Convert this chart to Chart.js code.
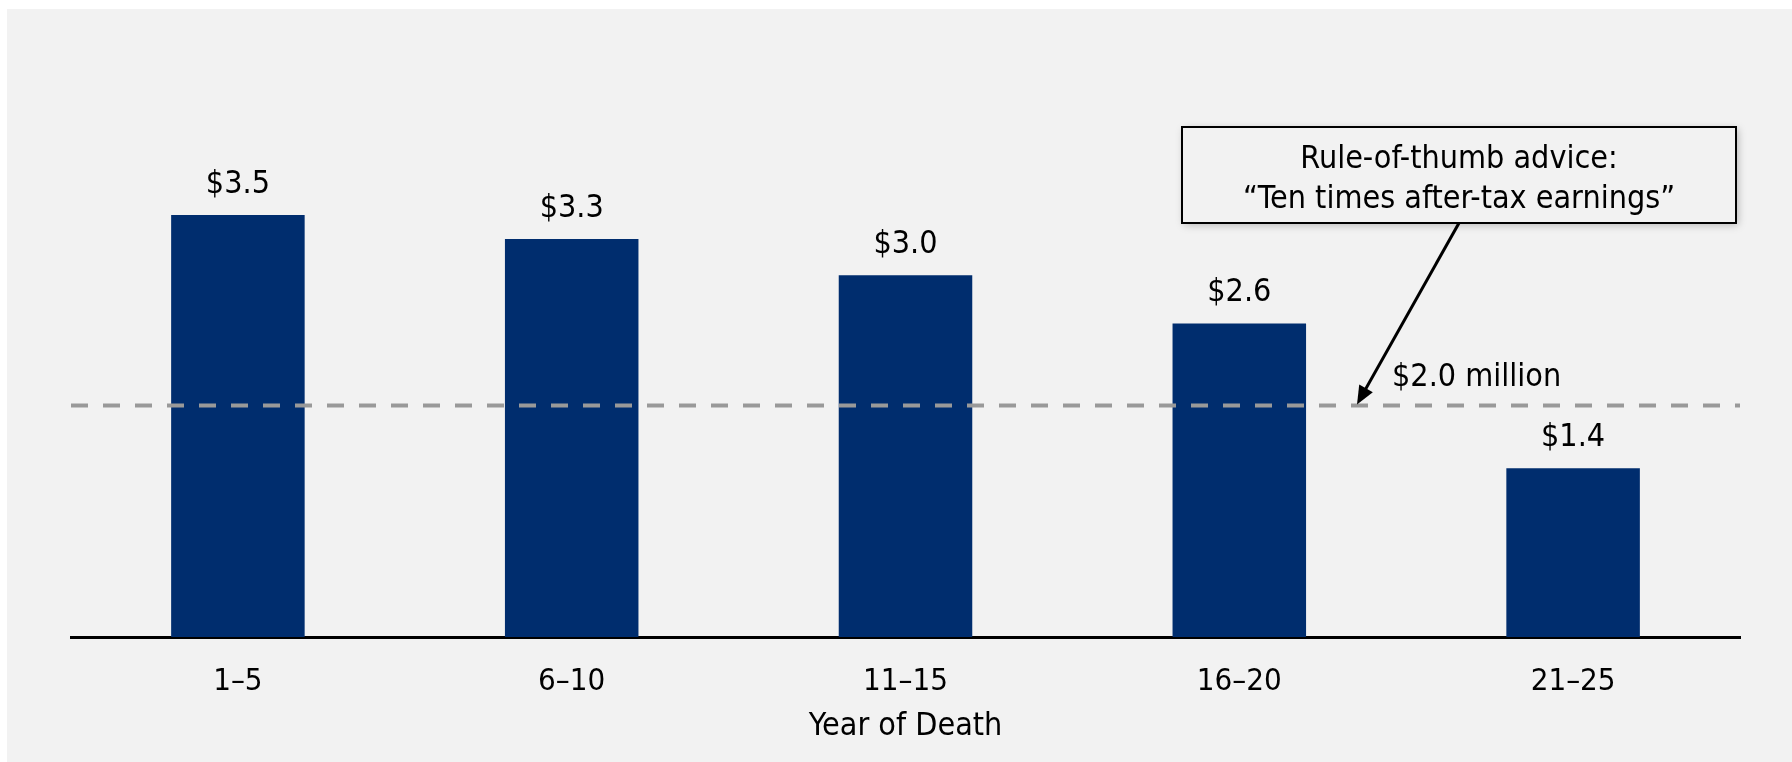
<!DOCTYPE html>
<html>
<head>
<meta charset="utf-8">
<script src="https://cdn.jsdelivr.net/npm/chart.js@4.4.0/dist/chart.umd.min.js"></script>
<style>
  html, body { margin: 0; padding: 0; background: #fff; }
  #wrap { width: 1792px; height: 762px; }
</style>
</head>
<body>
<div id="wrap"><canvas id="myChart" width="1792" height="762"></canvas></div>
<script>
// categories and values ($ millions)
const categories = ['1–5', '6–10', '11–15', '16–20', '21–25'];
const values = [3.5, 3.3, 3.0, 2.6, 1.4];
const axisTitle = 'Year of Death';

// rule-of-thumb reference line
const ruleValue = 1.92;
const ruleLabel = '$2.0 million';
const noteLines = ['Rule-of-thumb advice:', '“Ten times after-tax earnings”'];

const FONT = '"DejaVu Sans Condensed", "DejaVu Sans", sans-serif';

//grey panel behind everything
const panel = {
  id: 'panel',
  beforeDraw: (chart) => {
    const ctx = chart.ctx;
    ctx.save();
    ctx.fillStyle = '#f2f2f2';
    ctx.fillRect(7, 9, chart.width - 7, chart.height - 9);
    ctx.restore();
  }
};

//dashed line, value labels and the callout box
const extras = {
  id: 'extras',
  afterDatasetsDraw: (chart) => {
    const ctx = chart.ctx;
    const {left, right} = chart.chartArea;
    const yScale = chart.scales.y;
    const ry = yScale.getPixelForValue(ruleValue);

    ctx.save();
    // reference line
    ctx.strokeStyle = '#999999';
    ctx.lineWidth = 4;
    ctx.setLineDash([17, 15]);
    ctx.beginPath();
    ctx.moveTo(left, ry);
    ctx.lineTo(right, ry);
    ctx.stroke();
    ctx.setLineDash([]);

    // bar value labels
    ctx.fillStyle = '#000';
    ctx.font = '32px ' + FONT;
    ctx.textAlign = 'center';
    ctx.textBaseline = 'alphabetic';
    chart.getDatasetMeta(0).data.forEach((bar, i) => {
      ctx.fillText('$' + values[i].toFixed(1), bar.x, bar.y - 22);
    });

    // line label
    ctx.textAlign = 'left';
    ctx.fillText(ruleLabel, 1392, ry - 19);

    // callout box
    ctx.save();
    ctx.shadowColor = 'rgba(0,0,0,0.25)';
    ctx.shadowBlur = 8;
    ctx.shadowOffsetX = 2;
    ctx.shadowOffsetY = 2;
    ctx.fillStyle = '#f2f2f2';
    ctx.fillRect(1182, 127, 554, 96);
    ctx.restore();
    ctx.strokeStyle = '#000';
    ctx.lineWidth = 2;
    ctx.strokeRect(1182, 127, 554, 96);

    ctx.fillStyle = '#000';
    ctx.textAlign = 'center';
    ctx.fillText(noteLines[0], 1459, 168);
    ctx.fillText(noteLines[1], 1459, 208);

    // arrow from box to line
    const x0 = 1459, y0 = 223, x1 = 1357, y1 = ry - 1;
    const ang = Math.atan2(y1 - y0, x1 - x0);
    const head = 20;
    ctx.lineWidth = 3;
    ctx.beginPath();
    ctx.moveTo(x0, y0);
    ctx.lineTo(x1 - Math.cos(ang) * head * 0.8, y1 - Math.sin(ang) * head * 0.8);
    ctx.stroke();
    ctx.beginPath();
    ctx.moveTo(x1, y1);
    ctx.lineTo(x1 - head * Math.cos(ang - 0.4), y1 - head * Math.sin(ang - 0.4));
    ctx.lineTo(x1 - head * Math.cos(ang + 0.4), y1 - head * Math.sin(ang + 0.4));
    ctx.closePath();
    ctx.fill();
    ctx.restore();
  }
};

const config = {
  type: 'bar',
  data: {
    labels: categories,
    datasets: [{
      data: values,
      backgroundColor: '#002d6e',
      barPercentage: 0.4,
      categoryPercentage: 1.0
    }]
  },
  plugins: [panel, extras],
  options: {
    responsive: false,
    animation: false,
    devicePixelRatio: 1,
    layout: { padding: { left: 71, right: 52, top: 34, bottom: 0 } },
    plugins: { legend: { display: false }, tooltip: { enabled: false } },
    scales: {
      y: { display: false, min: 0, max: 5 },
      x: {
        afterFit: (scale) => { scale.height = 125; },
        grid: { display: false, drawTicks: false },
        border: { display: true, color: '#000', width: 3 },
        ticks: { color: '#000', font: { family: FONT, size: 31 }, padding: 26 },
        title: {
          display: true,
          text: axisTitle,
          color: '#000',
          font: { family: FONT, size: 32 },
          padding: { top: 0, bottom: 16 }
        }
      }
    }
  }
};

const ctx = document.getElementById('myChart').getContext('2d');
const myChart = new Chart(ctx, config);
</script>
</body>
</html>
